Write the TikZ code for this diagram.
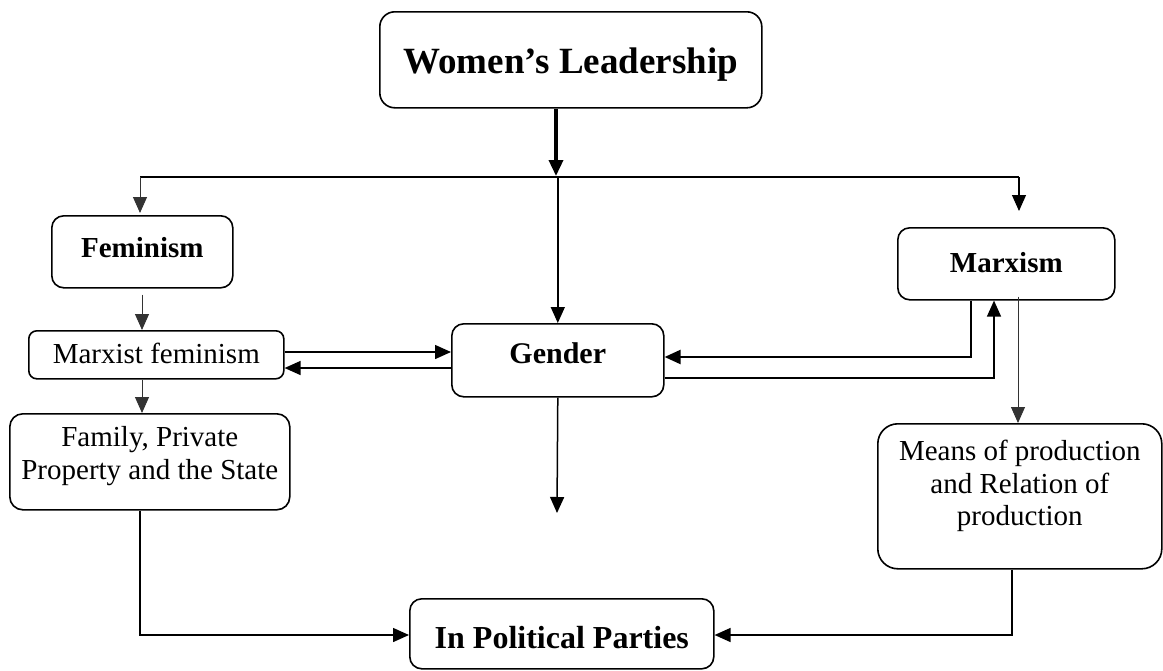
\documentclass[tikz,border=0pt]{standalone}
\usepackage{fontspec}
\setmainfont{Liberation Serif}
\usetikzlibrary{arrows.meta,calc}
\begin{document}
\begin{tikzpicture}[x=1pt,y=-1pt,
  box/.style={draw, line width=1.6pt, rounded corners=#1, inner sep=0pt, anchor=north west},
  box/.default=12pt,
  bfa/.style={font=\fontsize{29}{33}\selectfont\bfseries},
  rga/.style={font=\fontsize{29}{33}\selectfont},
  tip/.style={-{Triangle[length=16pt,width=14pt]}},
  thinln/.style={line width=0.9pt, draw=black!80},
  midln/.style={line width=1.5pt},
  heavyln/.style={line width=2.3pt},
]
\useasboundingbox (0,0) rectangle (1163,670);

% nodes
\node[box=15pt, minimum width=382pt, text height=62pt, text depth=34pt,
      font=\fontsize{37}{40}\selectfont\bfseries] (wl) at (379,11) {Women’s Leadership};
\node[box, bfa, minimum width=181pt, text height=42pt, text depth=30pt] (fem) at (51,215) {Feminism};
\node[box=8pt, rga, minimum width=255pt, text height=33pt, text depth=15pt] (mf) at (28,330) {Marxist feminism};
\node[box=13pt, rga, minimum width=280pt, text height=66pt, text depth=30pt] (fam) at (9,413)
  {\begin{tabular}[b]{@{}c@{}}Family, Private\\Property and the State\end{tabular}};
\node[box, font=\fontsize{30}{33}\selectfont\bfseries, minimum width=212pt, text height=40pt, text depth=33pt] (gen) at (451,323) {Gender};
\node[box, bfa, minimum width=217pt, text height=45pt, text depth=27pt] (mar) at (897,227) {Marxism};
\node[box=20pt, font=\fontsize{29}{32.5}\selectfont, minimum width=284pt, text height=102pt, text depth=43pt] (mea) at (877,423)
  {\begin{tabular}[b]{@{}c@{}}Means of production\\and Relation of\\production\end{tabular}};
\node[box, font=\fontsize{32}{35}\selectfont\bfseries, minimum width=304pt, text height=50pt, text depth=20pt] (pp) at (409,598) {In Political Parties};

% helper coordinates
\coordinate (hl) at (556,177);
\coordinate (hlL) at (140,177);
\coordinate (hlR) at (1019,177);
\coordinate (mtip) at (1019,211);
\coordinate (gtip) at (557,513);

% connectors
\draw[tip, line width=3.5pt] (wl.south -| hl) -- ([yshift=1pt]hl);
\draw[line width=1.3pt] (hlL) -- (hlR);
\draw[tip, thinln] (hlL) -- ([yshift=2pt]fem.north -| hlL);
\draw[tip, midln] (hlL -| gen.north) -- (gen.north);
\draw[tip, line width=1.1pt] (hlR) -- (mtip);
\draw[tip, thinln] ([yshift=-6pt]fem.south -| 142,0) -- (mf.north -| 142,0);
\draw[tip, thinln] (mf.south -| 142,0) -- (fam.north -| 142,0);
\draw[tip, midln] (mf.east |- 0,352) -- (gen.west |- 0,352);
\draw[tip, midln] (gen.west |- 0,368) -- (mf.east |- 0,368);
\draw[tip, heavyln] (mar.south -| 971,0) |- (gen.east |- 0,357);
\draw[tip, midln] (gen.east |- 0,378) -| (mar.south -| 994,0);
\draw[tip, thinln] ([yshift=4pt]mar.south -| 1018,0) -- (mea.north -| 1018,0);
\draw[tip, midln] (gen.south) -- (gtip);
\draw[tip, midln] (fam.south -| 140,0) |- (pp.west |- 0,635);
\draw[tip, midln] (mea.south -| 1012,0) |- (pp.east |- 0,635);
\end{tikzpicture}
\end{document}
